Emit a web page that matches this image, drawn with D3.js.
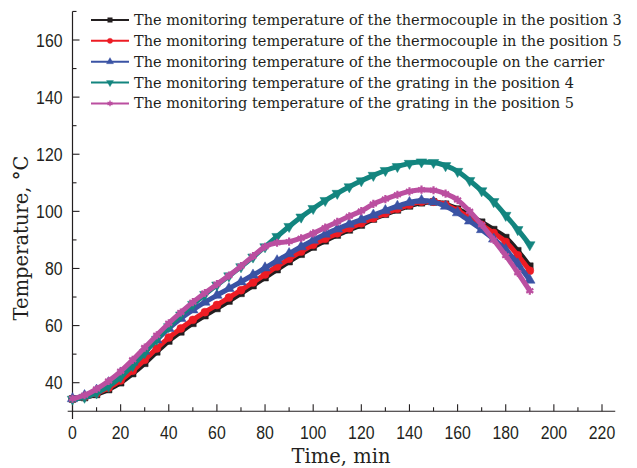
<!DOCTYPE html>
<html>
<head>
<meta charset="utf-8">
<script src="https://cdn.jsdelivr.net/npm/d3@7"></script>
<style>
  body { margin: 0; background: #fff; }
  svg { display: block; }
</style>
</head>
<body>
<svg id="chart" width="637" height="468"></svg>
<script>
// time in minutes (readings every 5 min)
const times = [0,5,10,15,20,25,30,35,40,45,50,55,60,65,70,75,80,85,90,95,
               100,105,110,115,120,125,130,135,140,145,150,155,160,165,170,175,180,185,190];

// thermocouple, position 3
const tcPos3 = [34.3,34.8,35.9,37.6,40.0,43.2,46.8,50.8,54.6,57.8,60.8,63.5,66.0,68.6,71.3,74.0,76.8,79.6,82.4,85.0,
                87.5,89.7,91.7,93.5,95.2,97.3,99.0,100.5,101.9,103.0,103.3,102.5,100.8,98.6,96.2,93.6,90.8,86.2,80.8];
// thermocouple, position 5
const tcPos5 = [34.3,35.0,36.3,38.2,40.8,44.2,48.0,52.0,55.8,59.0,62.0,64.7,67.2,69.8,72.4,75.1,77.9,80.7,83.4,85.9,
                88.3,90.4,92.3,94.1,95.8,97.6,99.3,100.9,102.3,103.4,103.4,102.3,100.3,97.8,95.2,92.4,89.3,84.6,79.2];
// thermocouple on the carrier
const tcCarrier = [34.4,35.5,37.4,40.0,43.4,47.2,51.0,55.0,59.0,62.5,65.5,68.2,70.6,73.0,75.3,77.7,80.2,82.7,85.2,87.6,
                   89.9,92.0,93.8,95.5,97.1,98.7,100.3,101.8,103.1,103.8,103.3,101.8,99.5,96.6,93.6,90.3,86.6,81.6,75.9];
// grating, position 4
const grPos4 = [34.2,34.9,36.4,38.8,42.0,46.0,50.5,55.2,59.6,63.7,67.4,70.9,74.2,77.4,80.6,84.0,87.6,91.2,94.7,98.0,
                101.0,103.8,106.3,108.6,110.7,112.6,114.3,115.7,116.8,117.3,117.1,116.0,114.0,110.8,107.2,103.4,98.6,93.6,88.3];
// grating, position 5
const grPos5 = [34.4,35.6,37.8,40.6,44.0,48.0,52.3,56.6,60.8,64.6,68.2,71.4,74.5,77.5,80.8,84.3,87.6,89.0,89.4,90.6,
                92.3,94.3,96.3,98.3,100.1,102.6,104.3,105.8,107.0,107.6,107.4,106.2,104.0,100.0,95.3,90.0,84.5,78.5,72.2];

const seriesNames = [
  "The monitoring temperature of the thermocouple in the position 3",
  "The monitoring temperature of the thermocouple in the position 5",
  "The monitoring temperature of the thermocouple on the carrier",
  "The monitoring temperature of the grating in the position 4",
  "The monitoring temperature of the grating in the position 5"
];

const xMajor = [0,20,40,60,80,100,120,140,160,180,200,220];
const xMinor = [10,30,50,70,90,110,130,150,170,190,210];
const yMajor = [40,60,80,100,120,140,160];
const yMinor = [50,70,90,110,130,150,170];

const svg = d3.select("#chart");

const x = d3.scaleLinear().domain([0, 220]).range([72.5, 602]);
const y = d3.scaleLinear().domain([40, 160]).range([382.7, 40]);

const inkColor = "#231f20";
const tickFont = "'Liberation Sans Narrow', 'Liberation Sans', Arial, sans-serif";
const serifFont = "'DejaVu Serif', serif";

const styles = [
  { values: tcPos3,    color: "#231f20", symbol: d3.symbolSquare,   size: 46, fill: true },
  { values: tcPos5,    color: "#ed1c24", symbol: d3.symbolCircle,   size: 50, fill: true },
  { values: tcCarrier, color: "#3a53a4", symbol: d3.symbolTriangle, size: 48, fill: true },
  { values: grPos4,    color: "#13857f", symbol: d3.symbolTriangle, size: 48, fill: true, flip: true },
  { values: grPos5,    color: "#bb4fa0", symbol: d3.symbolAsterisk, size: 46, fill: false }
];

// axes lines
svg.append("line")
  .attr("x1", x(-2)).attr("x2", x(225.5))
  .attr("y1", y(30)).attr("y2", y(30))
  .attr("stroke", inkColor).attr("stroke-width", 1.2);
svg.append("line")
  .attr("x1", x(0)).attr("x2", x(0))
  .attr("y1", y(170)).attr("y2", y(27.3))
  .attr("stroke", inkColor).attr("stroke-width", 1.2);

// x axis ticks (inward)
const xAxis = svg.append("g").attr("transform", `translate(0,${y(30)})`);
xAxis.selectAll("line.major").data(xMajor).join("line")
  .attr("class", "major")
  .attr("x1", d => x(d)).attr("x2", d => x(d))
  .attr("y1", 0).attr("y2", -7)
  .attr("stroke", inkColor).attr("stroke-width", 1.1);
xAxis.selectAll("line.minor").data(xMinor).join("line")
  .attr("class", "minor")
  .attr("x1", d => x(d)).attr("x2", d => x(d))
  .attr("y1", 0).attr("y2", -4)
  .attr("stroke", inkColor).attr("stroke-width", 1.1);
xAxis.selectAll("text").data(xMajor).join("text")
  .attr("x", d => x(d))
  .attr("y", 28)
  .attr("text-anchor", "middle")
  .attr("font-family", tickFont)
  .attr("font-size", 18)
  .attr("fill", inkColor)
  .attr("textLength", d => String(d).length * 8.8)
  .attr("lengthAdjust", "spacingAndGlyphs")
  .text(d => d);

// y axis ticks (inward)
const yAxis = svg.append("g").attr("transform", `translate(${x(0)},0)`);
yAxis.selectAll("line.major").data(yMajor).join("line")
  .attr("class", "major")
  .attr("x1", 0).attr("x2", 7)
  .attr("y1", d => y(d)).attr("y2", d => y(d))
  .attr("stroke", inkColor).attr("stroke-width", 1.1);
yAxis.selectAll("line.minor").data(yMinor).join("line")
  .attr("class", "minor")
  .attr("x1", 0).attr("x2", 4)
  .attr("y1", d => y(d)).attr("y2", d => y(d))
  .attr("stroke", inkColor).attr("stroke-width", 1.1);
yAxis.selectAll("text").data(yMajor).join("text")
  .attr("x", -10)
  .attr("y", d => y(d) + 6.5)
  .attr("text-anchor", "end")
  .attr("font-family", tickFont)
  .attr("font-size", 18)
  .attr("fill", inkColor)
  .attr("textLength", d => String(d).length * 8.8)
  .attr("lengthAdjust", "spacingAndGlyphs")
  .text(d => d);

// axis titles
svg.append("text")
  .attr("x", 341).attr("y", 463)
  .attr("text-anchor", "middle")
  .attr("font-family", serifFont)
  .attr("font-size", 19.5)
  .attr("fill", inkColor)
  .text("Time, min");
svg.append("text")
  .attr("transform", "translate(28,238) rotate(-90)")
  .attr("text-anchor", "middle")
  .attr("font-family", serifFont)
  .attr("font-size", 19.5)
  .attr("fill", inkColor)
  .text("Temperature, \u00B0C");

// series
const line = d3.line()
  .x((d, i) => x(times[i]))
  .y(d => y(d))
  .curve(d3.curveMonotoneX);

function markerPath(s, size) {
  return d3.symbol().type(s.symbol).size(size)();
}

styles.forEach(s => {
  const g = svg.append("g");
  g.append("path")
    .attr("d", line(s.values))
    .attr("fill", "none")
    .attr("stroke", s.color)
    .attr("stroke-width", 5);
  g.selectAll("path.mk").data(s.values).join("path")
    .attr("class", "mk")
    .attr("transform", (d, i) => `translate(${x(times[i])},${y(d)})` + (s.flip ? " rotate(180)" : ""))
    .attr("d", markerPath(s, s.size))
    .attr("fill", s.fill ? s.color : "none")
    .attr("stroke", s.color)
    .attr("stroke-width", s.fill ? 0.5 : 2.2);
});

// legend
const legend = svg.append("g");
const rowY = [20, 40.8, 61.7, 82.6, 103.4];
styles.forEach((s, i) => {
  const row = legend.append("g").attr("transform", `translate(0,${rowY[i]})`);
  row.append("line")
    .attr("x1", 91).attr("x2", 129)
    .attr("y1", 0).attr("y2", 0)
    .attr("stroke", s.color).attr("stroke-width", 2);
  row.append("path")
    .attr("transform", `translate(110,0)` + (s.flip ? " rotate(180)" : ""))
    .attr("d", markerPath(s, 22))
    .attr("fill", s.fill ? s.color : "none")
    .attr("stroke", s.color)
    .attr("stroke-width", s.fill ? 0.3 : 1.4);
  row.append("text")
    .attr("class", "legtext")
    .attr("x", 134)
    .attr("y", 5)
    .attr("font-family", serifFont)
    .attr("font-size", 14)
    .attr("fill", inkColor)
    .text(seriesNames[i]);
});

// fit legend font so first row spans to about x=622
const first = legend.select("text.legtext").node();
const w = first.getComputedTextLength();
const fs = 14 * 488 / w;
legend.selectAll("text.legtext").attr("font-size", fs);
</script>
</body>
</html>
